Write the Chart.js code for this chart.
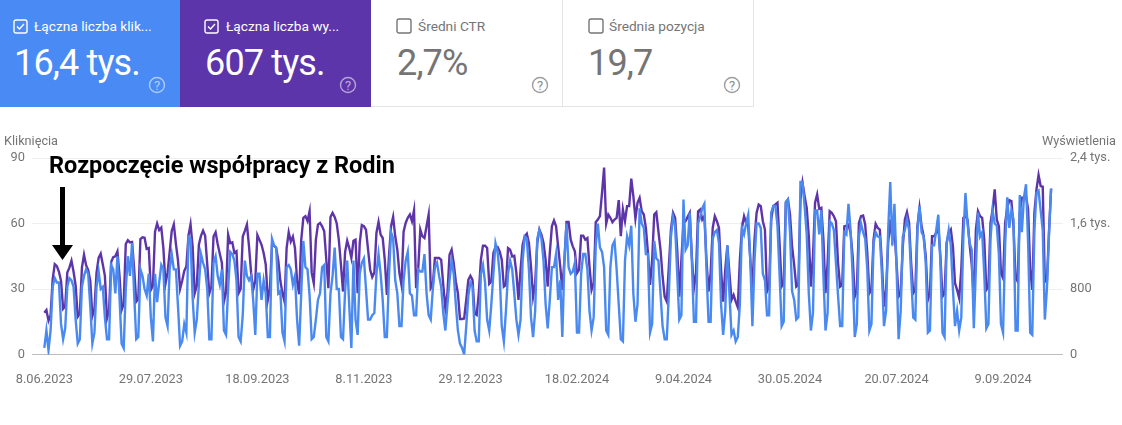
<!DOCTYPE html>
<html lang="pl">
<head>
<meta charset="utf-8">
<title>Skuteczność</title>
<script src="https://cdn.jsdelivr.net/npm/chart.js@4"></script>
<style>
  html, body { margin: 0; padding: 0; background: #fff; }
  body { width: 1122px; height: 425px; overflow: hidden; position: relative; font-family: Roboto, sans-serif; }
  #chart { position: absolute; left: 0; top: 0; }
  .card { position: absolute; top: 0; height: 107px; box-sizing: border-box; color: #757575; }
  .card .name { position: absolute; left: 34px; top: 17px; font-size: 13.7px; line-height: 18px; white-space: nowrap; }
  .card .num { position: absolute; left: 14px; top: 41px; font-size: 36px; line-height: 44px; letter-spacing: -0.85px; white-space: nowrap; }
  .card svg { position: absolute; }
  .on { color: #fff; }
  .off { background: #fff; border-bottom: 1px solid #e4e4e4; border-right: 1px solid #e4e4e4; }
  .axis-name { position: absolute; top: 133px; font-size: 12.7px; line-height: 15px; color: #757575; }
  #note { position: absolute; left: 49px; top: 151px; font-size: 23.5px; line-height: 28px; font-weight: 700; color: #000; white-space: nowrap; }
</style>
</head>
<body>
<canvas id="chart" width="1122" height="425"></canvas>

<div class="card on" style="left:0;width:180px;background:#4a8af4">
  <svg style="left:13px;top:19px" width="15" height="15"><rect x="1" y="1" width="13" height="13" rx="2" fill="none" stroke="#fff" stroke-width="1.4"/><path d="M4 7.5l2.5 2.5 4.5-5" fill="none" stroke="#fff" stroke-width="1.4"/></svg>
  <div class="name">Łączna liczba klik...</div>
  <div class="num">16,4 tys.</div>
  <svg style="left:148px;top:76px" width="18" height="18"><circle cx="9" cy="9" r="7.5" fill="none" stroke="#fff" stroke-opacity=".55" stroke-width="1.4"/><text x="9" y="13.500" text-anchor="middle" font-size="13" fill="#fff" fill-opacity=".6">?</text></svg>
</div>
<div class="card on" style="left:180px;width:191px;background:#5c35aa">
  <svg style="left:24px;top:19px" width="15" height="15"><rect x="1" y="1" width="13" height="13" rx="2" fill="none" stroke="#fff" stroke-width="1.4"/><path d="M4 7.5l2.5 2.5 4.5-5" fill="none" stroke="#fff" stroke-width="1.4"/></svg>
  <div class="name" style="left:46px">Łączna liczba wy...</div>
  <div class="num" style="left:25px">607 tys.</div>
  <svg style="left:159px;top:76px" width="18" height="18"><circle cx="9" cy="9" r="7.5" fill="none" stroke="#fff" stroke-opacity=".55" stroke-width="1.4"/><text x="9" y="13.500" text-anchor="middle" font-size="13" fill="#fff" fill-opacity=".6">?</text></svg>
</div>
<div class="card off" style="left:371px;width:192px">
  <svg style="left:25px;top:18px" width="16" height="16"><rect x="1" y="1" width="14" height="14" rx="2" fill="none" stroke="#757575" stroke-width="1.4"/></svg>
  <div class="name" style="left:47px">Średni CTR</div>
  <div class="num" style="left:26px">2,7%</div>
  <svg style="left:160px;top:76px" width="18" height="18"><circle cx="9" cy="9" r="7.5" fill="none" stroke="#9e9e9e" stroke-width="1.4"/><text x="9" y="13.500" text-anchor="middle" font-size="13" fill="#8a8a8a">?</text></svg>
</div>
<div class="card off" style="left:563px;width:191px">
  <svg style="left:25px;top:18px" width="16" height="16"><rect x="1" y="1" width="14" height="14" rx="2" fill="none" stroke="#757575" stroke-width="1.4"/></svg>
  <div class="name" style="left:46px">Średnia pozycja</div>
  <div class="num" style="left:25px">19,7</div>
  <svg style="left:160px;top:76px" width="18" height="18"><circle cx="9" cy="9" r="7.5" fill="none" stroke="#9e9e9e" stroke-width="1.4"/><text x="9" y="13.500" text-anchor="middle" font-size="13" fill="#8a8a8a">?</text></svg>
</div>

<div class="axis-name" style="left:4px">Kliknięcia</div>
<div class="axis-name" style="right:6px">Wyświetlenia</div>

<div id="note">Rozpoczęcie współpracy z Rodin</div>
<svg style="position:absolute;left:50px;top:185px" width="26" height="78"><path d="M10 2h5v58h8l-10.500 15-10.500-15h8z" fill="#000"/></svg>

<script>
// one line per week, Monday to Sunday (the first line starts on Thursday 8.06.2023)
const clicks = [
  3, 11, 2, 11,
  31, 35, 33, 33, 14, 7, 12,
  31, 35, 34, 31, 16, 5, 7,
  31, 36, 39, 37, 22, 5, 10,
  31, 38, 30, 31, 17, 7, 7,
  41, 39, 28, 45, 26, 5, 3,
  30, 45, 36, 51, 28, 7, 8,
  39, 36, 30, 27, 37, 17, 6,
  37, 24, 33, 41, 39, 17, 13,
  39, 46, 39, 39, 22, 4, 6,
  14, 10, 54, 53, 26, 10, 16,
  32, 46, 42, 39, 30, 7, 7,
  42, 45, 36, 32, 39, 11, 9,
  30, 47, 46, 43, 34, 8, 6,
  18, 43, 36, 34, 36, 25, 9,
  37, 37, 25, 34, 28, 8, 8,
  53, 50, 49, 28, 29, 10, 6,
  40, 41, 39, 32, 36, 16, 4,
  28, 52, 40, 39, 27, 7, 8,
  16, 25, 28, 40, 41, 8, 6,
  28, 36, 49, 30, 30, 8, 7,
  29, 43, 22, 3, 43, 16, 9,
  37, 42, 44, 30, 16, 16, 18,
  19, 37, 46, 37, 25, 8, 8,
  36, 56, 53, 34, 28, 13, 13,
  34, 43, 47, 28, 27, 18, 18,
  39, 38, 38, 46, 28, 18, 16,
  30, 40, 42, 36, 31, 19, 11,
  23, 34, 43, 37, 23, 11, 5,
  3, 0, 13, 27, 33, 31, 11,
  6, 6, 37, 41, 33, 16, 11,
  23, 37, 51, 47, 37, 13, 6,
  20, 37, 43, 39, 28, 16, 9,
  16, 43, 54, 53, 39, 17, 8,
  20, 53, 57, 53, 43, 23, 12,
  25, 40, 40, 46, 25, 34, 8,
  43, 60, 40, 37, 38, 42, 10,
  10, 37, 46, 46, 39, 20, 11,
  17, 50, 60, 49, 47, 40, 11,
  9, 40, 50, 52, 39, 23, 7,
  6, 43, 54, 50, 59, 28, 15,
  23, 67, 60, 58, 46, 46, 10,
  14, 52, 44, 43, 28, 13, 7,
  7, 28, 54, 63, 59, 37, 16,
  18, 71, 48, 50, 65, 43, 15,
  15, 60, 63, 67, 69, 39, 15,
  15, 53, 56, 57, 51, 23, 9,
  20, 50, 28, 9, 11, 6, 8,
  23, 58, 55, 60, 64, 43, 13,
  43, 60, 60, 58, 37, 34, 18,
  18, 65, 68, 68, 59, 37, 13,
  15, 70, 71, 56, 29, 25, 16,
  17, 79, 79, 68, 55, 28, 11,
  19, 66, 66, 55, 66, 36, 11,
  19, 61, 60, 57, 42, 27, 13,
  13, 56, 55, 69, 57, 36, 8,
  14, 54, 60, 56, 53, 39, 11,
  14, 51, 56, 54, 54, 37, 13,
  20, 57, 79, 50, 69, 40, 7,
  20, 54, 57, 62, 57, 36, 17,
  16, 57, 68, 56, 54, 42, 10,
  11, 50, 50, 57, 64, 42, 10,
  8, 51, 57, 50, 30, 13, 20,
  11, 17, 54, 74, 60, 51, 48,
  12, 40, 65, 54, 56, 37, 12,
  14, 53, 66, 60, 59, 46, 14,
  10, 50, 72, 58, 66, 62, 11,
  11, 73, 56, 72, 78, 51, 10,
  9, 57, 74, 75, 66, 57, 16,
  30, 55, 76,
];

const impressions = [
  511, 544, 413, 480,
  920, 1104, 1080, 1010, 900, 560, 590,
  1000, 1060, 1145, 1010, 840, 462, 500,
  1060, 1219, 1090, 1030, 900, 470, 560,
  1000, 1180, 1231, 1100, 960, 441, 540,
  1130, 1190, 1200, 1260, 960, 544, 620,
  1350, 1395, 1370, 1375, 1050, 646, 680,
  1410, 1431, 1425, 1290, 1300, 789, 840,
  1500, 1600, 1520, 1550, 1300, 863, 1000,
  1250, 1510, 1591, 1350, 1150, 802, 900,
  1020, 1075, 1450, 1591, 1320, 748, 840,
  1340, 1450, 1513, 1450, 1100, 748, 830,
  1440, 1493, 1350, 1230, 1120, 646, 760,
  1464, 1360, 1370, 1240, 1260, 748, 800,
  1440, 1510, 1587, 1320, 1000, 789, 900,
  1460, 1400, 1340, 1240, 1100, 667, 800,
  1340, 1329, 1300, 1150, 900, 750, 646,
  1300, 1493, 1380, 1440, 1300, 900, 736,
  1400, 1670, 1690, 1630, 1750, 1000, 871,
  1400, 1587, 1607, 1566, 1505, 1157, 810,
  1680, 1730, 1680, 1600, 1400, 1100, 769,
  1250, 1390, 1300, 1180, 1390, 1403, 748,
  1360, 1579, 1566, 1525, 1280, 1035, 945,
  1000, 1485, 1620, 1464, 1423, 1157, 728,
  1200, 1566, 1681, 1444, 1280, 994, 851,
  1500, 1607, 1669, 1710, 1628, 1763, 810,
  1050, 1526, 1444, 1423, 1566, 1710, 810,
  851, 1178, 1178, 1178, 1157, 851, 564,
  750, 1219, 1280, 1117, 892, 748, 434,
  434, 440, 667, 912, 961, 912, 503,
  483, 748, 1157, 1329, 1329, 1300, 863,
  892, 1239, 1313, 1313, 1260, 1157, 830,
  851, 1300, 1280, 1198, 1206, 994, 667,
  1035, 1341, 1444, 1476, 1362, 1075, 707,
  871, 1362, 1525, 1464, 1362, 1157, 830,
  1239, 1566, 1636, 1566, 1321, 1076, 789,
  1157, 1620, 1620, 1403, 1321, 1260, 994,
  1035, 1452, 1452, 1403, 1423, 1076, 789,
  871, 1616, 1648, 1689, 1975, 2282, 1599,
  1710, 1669, 1616, 1648, 1669, 1885, 1444,
  1771, 1628, 1812, 1812, 2147, 1935, 1661,
  1853, 1914, 1750, 1710, 1546, 1239, 851,
  1157, 1710, 1738, 1505, 1280, 953, 707,
  646, 1076, 1526, 1730, 1669, 1280, 707,
  1157, 1607, 1628, 1681, 1730, 1198, 810,
  994, 1750, 1771, 1648, 1689, 1157, 769,
  994, 1546, 1689, 1628, 1546, 1035, 646,
  1035, 1329, 994, 667, 728, 646, 577,
  1157, 1546, 1689, 1607, 1566, 1157, 789,
  1403, 1730, 1832, 1812, 1628, 1526, 769,
  830, 1648, 1812, 1832, 1853, 1362, 830,
  871, 1853, 1894, 1710, 1321, 1096, 830,
  851, 1894, 2098, 1935, 1791, 1444, 830,
  1198, 1853, 1955, 1779, 1791, 1403, 748,
  1117, 1750, 1730, 1689, 1628, 1117, 830,
  851, 1566, 1575, 1587, 1485, 1198, 708,
  789, 1607, 1689, 1697, 1587, 1239, 748,
  789, 1403, 1595, 1546, 1526, 1117, 585,
  789, 1362, 1648, 1400, 1526, 1117, 708,
  748, 1321, 1648, 1738, 1607, 1117, 748,
  789, 1566, 1791, 1566, 1444, 1198, 667,
  748, 1444, 1444, 1485, 1566, 1198, 708,
  748, 1362, 1485, 1526, 1321, 871, 789,
  687, 1035, 1669, 1689, 1648, 1342, 1100,
  667, 1526, 1750, 1689, 1669, 1403, 789,
  830, 1607, 1771, 2016, 1648, 1566, 994,
  932, 1607, 1791, 1885, 1873, 1566, 932,
  892, 1730, 1914, 1914, 1935, 1771, 1035,
  789, 1730, 2016, 2192, 2057, 2049, 892,
  892, 1500, 2025,
];

const dateLabels = ['8.06.2023', '29.07.2023', '18.09.2023', '8.11.2023', '29.12.2023', '18.02.2024', '9.04.2024', '30.05.2024', '20.07.2024', '9.09.2024'];
const dateStep = 51; // days between two date labels
const clickTicks = [0, 30, 60, 90];
const impressionTicks = [0, 800, 1600, 2400];
const impressionLabels = ['0', '800', '1,6 tys.', '2,4 tys.'];

const tickFont = { family: 'Roboto', size: 12.8 };
const gridColor = ctx => (ctx.tick.value === 0 ? '#bdbdbd' : '#efefef');

new Chart(document.getElementById('chart'), {
    type: 'line',
    data: {
        datasets: [
            { label: 'Kliknięcia', yAxisID: 'y', data: clicks.map((y, x) => ({ x, y })), borderColor: '#4a8af0', borderWidth: 2.4, pointRadius: 0, tension: 0 },
            { label: 'Wyświetlenia', yAxisID: 'y2', data: impressions.map((y, x) => ({ x, y })), borderColor: '#5e35a8', borderWidth: 2.4, pointRadius: 0, tension: 0 },
        ],
    },
    options: {
        responsive: false,
        animation: false,
        layout: { padding: { top: 158 } },
        plugins: { legend: { display: false }, tooltip: { enabled: false } },
        scales: {
            x: {
                type: 'linear',
                min: -5.9,
                max: 487.7,
                grid: { display: false },
                border: { display: false },
                afterBuildTicks: axis => { axis.ticks = dateLabels.map((_, i) => ({ value: i * dateStep })); },
                afterFit: axis => { axis.height = 70.5; },
                ticks: {
                    autoSkip: false,
                    maxRotation: 0,
                    padding: 10,
                    color: '#757575',
                    font: tickFont,
                    callback: value => dateLabels[value / dateStep],
                },
            },
            y: {
                min: 0,
                max: 90,
                grid: { color: gridColor, drawTicks: false },
                border: { display: false },
                afterBuildTicks: axis => { axis.ticks = clickTicks.map(value => ({ value })); },
                afterFit: axis => { axis.width = 32; },
                ticks: { padding: 7, color: '#757575', font: tickFont },
            },
            y2: {
                position: 'right',
                min: 0,
                max: 2400,
                grid: { display: false, drawTicks: false },
                border: { display: false },
                afterBuildTicks: axis => { axis.ticks = impressionTicks.map(value => ({ value })); },
                afterFit: axis => { axis.width = 59; },
                ticks: {
                    padding: 7,
                    color: '#757575',
                    font: tickFont,
                    callback: value => impressionLabels[impressionTicks.indexOf(value)],
                },
            },
        },
    },
});
</script>
</body>
</html>
